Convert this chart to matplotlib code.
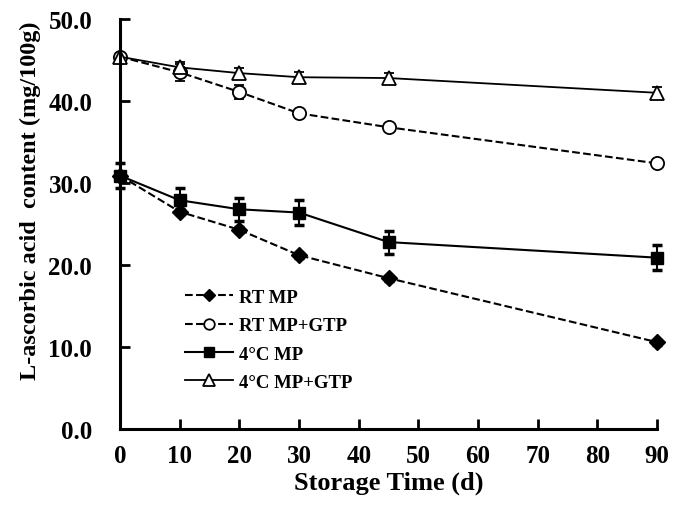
import matplotlib.pyplot as plt
import numpy as np

days = [0, 10, 20, 30, 45, 90]

rt_mp = [30.9, 26.5, 24.3, 21.2, 18.4, 10.6]
rt_mp_err = [0.3, 0.3, 0.3, 0.3, 0.3, 0.3]

rt_gtp = [45.4, 43.5, 41.1, 38.5, 36.8, 32.4]
rt_gtp_err = [0.4, 1.0, 0.8, 0.3, 0.3, 0.3]

c4_mp = [30.9, 27.9, 26.8, 26.4, 22.8, 20.9]
c4_mp_err = [1.5, 1.5, 1.4, 1.5, 1.4, 1.5]

c4_gtp = [45.4, 44.1, 43.4, 42.9, 42.8, 41.0]
c4_gtp_err = [0.4, 0.7, 0.6, 0.6, 0.6, 0.7]

labels = ['RT MP', 'RT MP+GTP', '4°C MP', '4°C MP+GTP']
x_ticks = [0, 10, 20, 30, 40, 50, 60, 70, 80, 90]
y_ticks = [0, 10, 20, 30, 40, 50]

plt.rcParams['font.family'] = ['Liberation Serif', 'DejaVu Serif']
plt.rcParams['font.weight'] = 'bold'

fig = plt.figure(figsize=(6.83, 5.06), dpi=100)
ax = fig.add_axes([0.1757, 0.150, 0.7863, 0.8105])

common = dict(color='black', ecolor='black', elinewidth=1.5, capsize=3.5, capthick=2.5, clip_on=False)
h1 = ax.errorbar(days, rt_mp, yerr=rt_mp_err, fmt='D', ls='--', lw=1.5, ms=8,
                 mfc='black', mec='black', **common)
h2 = ax.errorbar(days, rt_gtp, yerr=rt_gtp_err, fmt='o', ls='--', lw=1.5, ms=9.5,
                 mfc='white', mec='black', mew=1.3, **common)
h3 = ax.errorbar(days, c4_mp, yerr=c4_mp_err, fmt='s', ls='-', lw=1.5, ms=9,
                 mfc='black', mec='black', **common)
h4 = ax.errorbar(days, c4_gtp, yerr=c4_gtp_err, fmt='^', ls='-', lw=1.3, ms=10,
                 mfc='white', mec='black', mew=1.3, **common)

ax.set_xlim(0, 90)
ax.set_ylim(0, 50)
ax.set_xticks(x_ticks)
ax.set_yticks(y_ticks)
ax.set_yticklabels([f'{v:.1f}' for v in y_ticks])

for s in ['top', 'right']:
    ax.spines[s].set_visible(False)
for s in ['left', 'bottom']:
    ax.spines[s].set_linewidth(2.2)

ax.tick_params(axis='both', direction='in', length=7, width=2, labelsize=18)
ax.tick_params(axis='y', pad=20)
ax.tick_params(axis='x', pad=11)

ax.set_xlabel('Storage Time (d)', fontsize=19, fontweight='bold', labelpad=2)
ax.set_ylabel('L-ascorbic acid  content (mg/100g)', fontsize=17.5, fontweight='bold')
ax.yaxis.set_label_coords(-0.147, 0.559)

ax.legend([h1[0], h2[0], h3[0], h4[0]], labels, loc='lower left',
          bbox_to_anchor=(0.121, 0.093), frameon=False, borderpad=0, borderaxespad=0,
          prop={'size': 13.5, 'weight': 'bold'}, handlelength=2.56,
          labelspacing=0.6, handletextpad=0.32, markerscale=0.8)

fig.savefig('out.png', dpi=100)
